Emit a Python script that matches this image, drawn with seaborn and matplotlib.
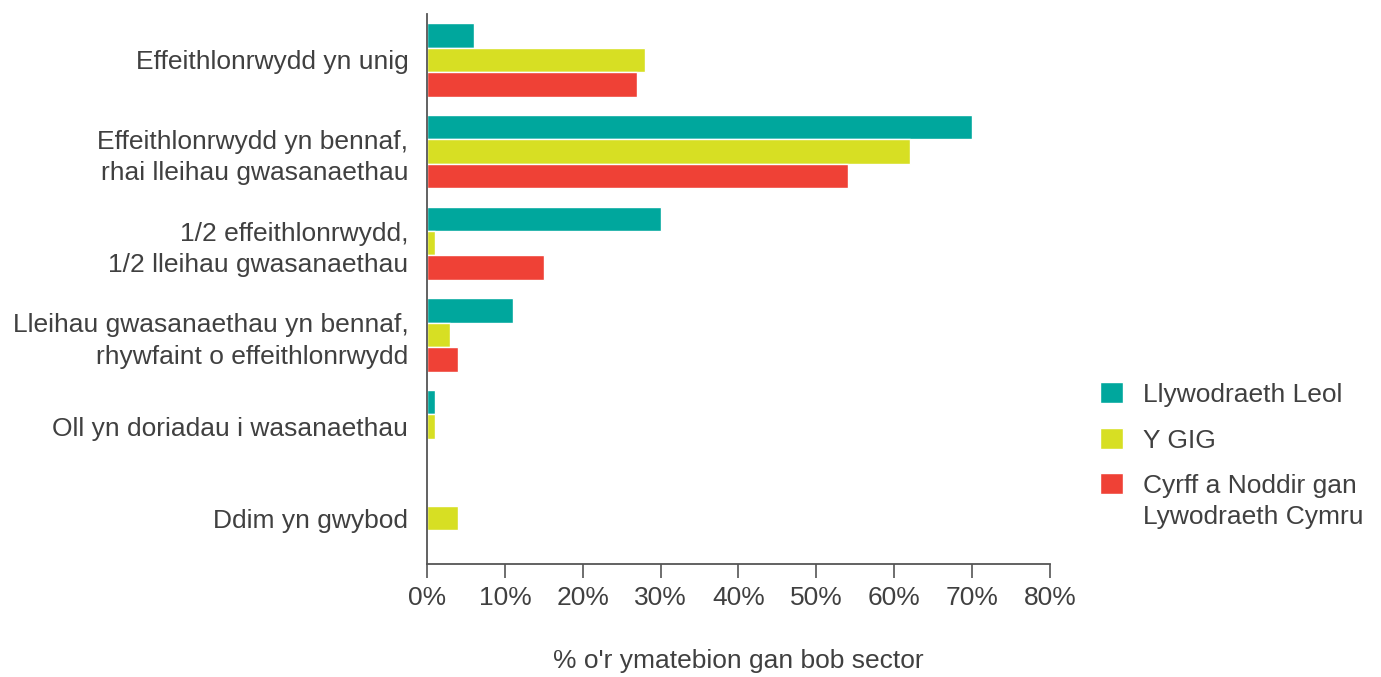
import matplotlib
matplotlib.use('Agg')
import matplotlib.pyplot as plt
from matplotlib.legend_handler import HandlerPatch
import pandas as pd
import seaborn as sns

# categorïau ac ymatebion (%)
categories = [
    'Effeithlonrwydd yn unig',
    'Effeithlonrwydd yn bennaf,\nrhai lleihau gwasanaethau',
    '1/2 effeithlonrwydd,\n1/2 lleihau gwasanaethau',
    'Lleihau gwasanaethau yn bennaf,\nrhywfaint o effeithlonrwydd',
    'Oll yn doriadau i wasanaethau',
    'Ddim yn gwybod',
]
sectors = ['Llywodraeth Leol', 'Y GIG', 'Cyrff a Noddir gan\nLywodraeth Cymru']
llywodraeth_leol = [6, 70, 30, 11, 1, 0]
y_gig = [28, 62, 1, 3, 1, 4]
cyrff_noddir = [27, 54, 15, 4, 0, 0]
colors = ['#00A79D', '#D7DF23', '#EF4136']
xticks = [0, 10, 20, 30, 40, 50, 60, 70, 80]

rows = []
for sector, vals in zip(sectors, [llywodraeth_leol, y_gig, cyrff_noddir]):
    for cat, v in zip(categories, vals):
        rows.append({'categori': cat, 'sector': sector, 'gwerth': v})
df = pd.DataFrame(rows)


class TopHandler(HandlerPatch):
    # alinio'r sgwâr gyda llinell gyntaf label aml-linell
    def __init__(self, shift, **kw):
        super().__init__(**kw)
        self.shift = shift

    def create_artists(self, legend, orig_handle, xdescent, ydescent, width, height,
                       fontsize, trans):
        return super().create_artists(legend, orig_handle, xdescent, ydescent - self.shift,
                                      width, height, fontsize, trans)


sns.set_style('white')
plt.rcParams['font.family'] = ['Liberation Sans', 'DejaVu Sans']
text_col = '#404040'
spine_col = '#555555'

fig = plt.figure(figsize=(13.81, 6.77), dpi=100)
ax = fig.add_axes([0.3092, 0.1669, 0.4511, 0.8124])

sns.barplot(data=df, y='categori', x='gwerth', hue='sector', order=categories,
            hue_order=sectors, palette=colors, orient='h', width=0.8,
            edgecolor='white', linewidth=1, saturation=1, ax=ax, legend=True)

ax.set_xlim(0, 80)
ax.set_ylim(5.5, -0.5)
ax.set_xticks(xticks)
ax.set_xticklabels([f'{t}%' for t in xticks], fontsize=19, color=text_col)
ax.set_yticks(range(len(categories)))
ax.set_yticklabels(categories, fontsize=19, color=text_col, linespacing=1.38)
ax.tick_params(axis='x', direction='out', length=10, width=1.2, color=spine_col, pad=6, bottom=True)
ax.tick_params(axis='y', length=0, pad=13.5)
ax.set_ylabel('')
ax.set_xlabel("% o'r ymatebion gan bob sector", fontsize=19, color=text_col, labelpad=28)

for s in ['top', 'right']:
    ax.spines[s].set_visible(False)
for s in ['left', 'bottom']:
    ax.spines[s].set_color(spine_col)
    ax.spines[s].set_linewidth(1.3)

handles, labels = ax.get_legend_handles_labels()
ax.get_legend().remove()
leg = fig.legend(handles, labels, loc='upper left', bbox_to_anchor=(0.779, 0.471),
                 frameon=False, fontsize=19, handlelength=0.88, handleheight=0.88,
                 handletextpad=0.75, labelspacing=0.8, labelcolor=text_col,
                 handler_map={handles[2]: TopHandler(shift=13.5)})
leg.get_texts()[2].set_linespacing(1.4)

fig.savefig('out.png', dpi=100)
